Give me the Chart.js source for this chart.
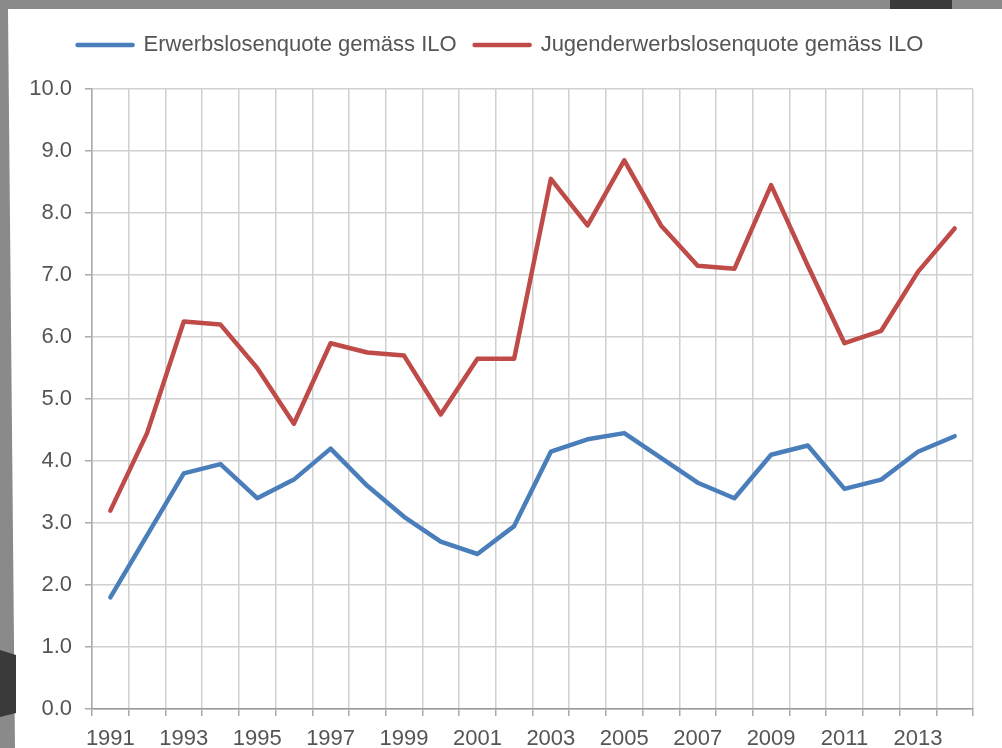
<!DOCTYPE html>
<html>
<head>
<meta charset="utf-8">
<script src="https://cdn.jsdelivr.net/npm/chart.js@4.4.1/dist/chart.umd.min.js"></script>
<style>
  html, body { margin: 0; padding: 0; }
  body { width: 1002px; height: 748px; background: #8a8a8a; position: relative; overflow: hidden; }
  .panel { position: absolute; left: 0; top: 0; width: 1002px; height: 748px; background: #fff;
    clip-path: polygon(8px 9px, 1002px 9px, 1002px 748px, 15px 748px); }
  .shade-left { position: absolute; left: 0; top: 0; width: 16px; height: 748px; background: #3a3a3a;
    clip-path: polygon(0 650px, 16px 655px, 16px 713px, 0 717px); }
  .shade-top { position: absolute; left: 890px; top: 0; width: 62px; height: 9px; background: #3a3a3a; }
  #chart { position: absolute; left: 0; top: 0; }
</style>
</head>
<body>
<div class="panel"></div>
<div class="shade-left"></div>
<div class="shade-top"></div>
<canvas id="chart" width="1002" height="748"></canvas>
<script>
const years = ["1991", "1992", "1993", "1994", "1995", "1996", "1997", "1998", "1999", "2000",
  "2001", "2002", "2003", "2004", "2005", "2006", "2007", "2008", "2009", "2010",
  "2011", "2012", "2013", "2014"];

const erwerbslosenquote = [1.8, 2.8, 3.8, 3.95, 3.4, 3.7, 4.2, 3.6, 3.1, 2.7,
  2.5, 2.95, 4.15, 4.35, 4.45, 4.05, 3.65, 3.4, 4.1, 4.25,
  3.55, 3.7, 4.15, 4.4];

const jugendquote = [3.2, 4.45, 6.25, 6.2, 5.5, 4.6, 5.9, 5.75, 5.7, 4.75,
  5.65, 5.65, 8.55, 7.8, 8.85, 7.8, 7.15, 7.1, 8.45, 7.15,
  5.9, 6.1, 7.05, 7.75];

const seriesLabels = ["Erwerbslosenquote gemäss ILO", "Jugenderwerbslosenquote gemäss ILO"];
const seriesColors = ["#4a7ebb", "#be4b48"];

const FONT = "'Liberation Sans', Arial, Helvetica, sans-serif";
const TEXT_COLOR = "#555";
const GRID_COLOR = "#d0d0d0";

const lineDataset = (label, data, color) => ({
  label,
  data,
  borderColor: color,
  backgroundColor: color,
  borderWidth: 4.5,
  borderJoinStyle: "round",
  borderCapStyle: "round",
  pointRadius: 0,
  tension: 0,
  fill: false,
});

const ctx = document.getElementById("chart").getContext("2d");

new Chart(ctx, {
  type: "line",
  data: {
    labels: years,
    datasets: [
      lineDataset(seriesLabels[0], erwerbslosenquote, seriesColors[0]),
      lineDataset(seriesLabels[1], jugendquote, seriesColors[1]),
    ],
  },
  options: {
    responsive: false,
    animation: false,
    layout: {
      padding: { left: 28, right: 29, top: 16, bottom: 0 },
    },
    plugins: {
      legend: {
        position: "top",
        labels: {
          boxWidth: 55,
          boxHeight: 0,
          padding: 18,
          color: TEXT_COLOR,
          font: { family: FONT, size: 22 },
        },
      },
      // empty title used as spacer between legend and plot
      title: {
        display: true,
        text: "",
        weight: 0,
        padding: 0,
        font: { family: FONT, size: 10, lineHeight: "23px" },
      },
      tooltip: { enabled: false },
    },
    scales: {
      x: {
        offset: true,
        afterFit: (scale) => { scale.height = 39; },
        grid: {
          offset: true,
          color: GRID_COLOR,
          lineWidth: 1.5,
          tickLength: 7,
          tickColor: "#aaa",
        },
        border: { color: "#999", width: 1.5 },
        ticks: {
          autoSkip: false,
          maxRotation: 0,
          padding: 10,
          color: TEXT_COLOR,
          font: { family: FONT, size: 22 },
          callback: function (value, index) {
            return index % 2 === 0 ? this.getLabelForValue(value) : "";
          },
        },
      },
      y: {
        min: 0,
        max: 10,
        afterFit: (scale) => { scale.width = 64; },
        grid: {
          color: GRID_COLOR,
          lineWidth: 1.5,
          tickLength: 7,
          tickColor: "#aaa",
        },
        border: { color: "#aaa", width: 1.5 },
        ticks: {
          stepSize: 1,
          padding: 13,
          color: TEXT_COLOR,
          font: { family: FONT, size: 22 },
          callback: (value) => value.toFixed(1),
        },
      },
    },
  },
});
</script>
</body>
</html>
